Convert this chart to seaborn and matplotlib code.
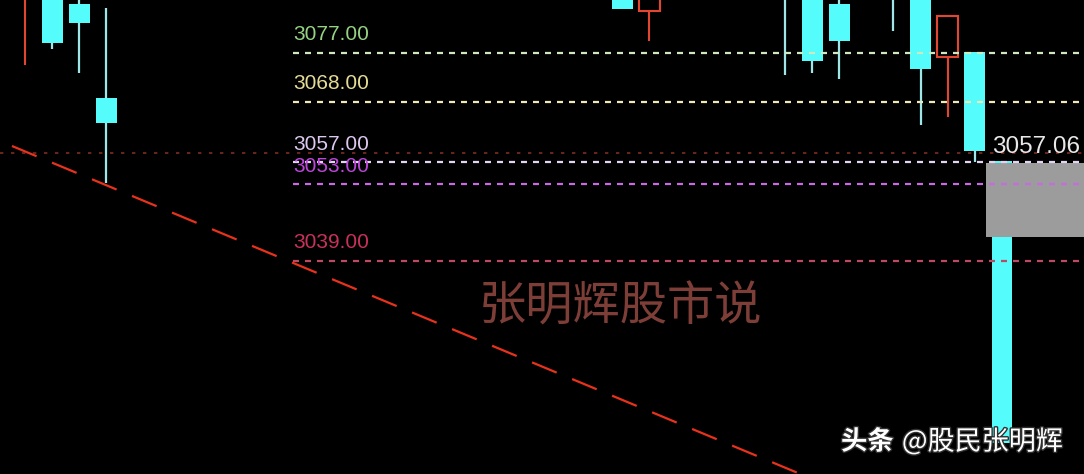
import pandas as pd
import seaborn as sns
import matplotlib.pyplot as plt
import matplotlib.patheffects as pe
from matplotlib.patches import Rectangle

# visible candles (bar number on the chart); values above ~3086.6 are off screen
bar_idx = [0, 1, 2, 3, 22, 23, 28, 29, 30, 32, 33, 34, 35, 36]
opens = [3089.0, 3090.0, 3085.9, 3068.7, 3090.0, 3084.6, 3094.0, 3089.0, 3085.9, 3093.0, 3089.0, 3076.2, 3077.1, 3057.3]
highs = [3096.0, 3091.0, 3088.5, 3085.2, 3091.0, 3093.0, 3096.0, 3090.0, 3088.0, 3095.0, 3090.0, 3083.7, 3077.1, 3057.3]
lows = [3074.75, 3077.7, 3073.3, 3053.2, 3085.0, 3079.1, 3072.9, 3073.3, 3072.2, 3081.0, 3063.8, 3065.3, 3057.06, 3005.7]
closes = [3095.0, 3078.8, 3082.4, 3064.2, 3085.0, 3092.0, 3088.0, 3075.5, 3079.1, 3088.0, 3074.0, 3083.7, 3059.0, 3005.7]

# horizontal price levels
level_prices = [3077.0, 3068.0, 3057.0, 3053.0, 3039.0]
level_labels = ["3077.00", "3068.00", "3057.00", "3053.00", "3039.00"]
label_colors = ["#96d282", "#e6dc96", "#dcc8f0", "#be46dc", "#c8325a"]
line_colors = ["#d0e8c0", "#f0e8b8", "#e4d4f4", "#c86ae0", "#c04860"]
level_start = 9.87

prev_close = 3058.73
last_price_label = "3057.06"

# falling trend line
trend_x = [-0.48, 29.0]
trend_y = [3059.96, 2999.15]

# grey highlight box
box_left = 35.41
box_low, box_high = 3043.3, 3056.85

watermark = "张明辉股市说"

CYAN = "#54fcfc"
WICK = "#9fe6e8"
RED = "#e24630"

sns.set_style("dark", {"axes.facecolor": "black", "figure.facecolor": "black"})
plt.rcParams['font.family'] = ['Liberation Sans', 'Noto Sans CJK SC', 'DejaVu Sans']

fig = plt.figure(figsize=(10.84, 4.74), dpi=100)
ax = fig.add_axes([0, 0, 1, 1])
ax.set_facecolor("black")
ax.set_xlim(-0.921, 39.02)
ax.set_ylim(3000.04, 3086.63)
ax.set_axis_off()

# candles
for x, o, h, l, c in zip(bar_idx, opens, highs, lows, closes):
    lo_b, hi_b = min(o, c), max(o, c)
    if c >= o:
        ax.vlines(x, l, lo_b, color=RED, lw=1.5, zorder=2)
        ax.vlines(x, hi_b, h, color=RED, lw=1.5, zorder=2)
        ax.bar(x, hi_b - lo_b, bottom=lo_b, width=0.77, facecolor="black",
               edgecolor=RED, linewidth=1.5, zorder=2)
    else:
        ax.vlines(x, l, h, color=WICK, lw=1.6, zorder=2)
        ax.bar(x, max(hi_b - lo_b, 0.15), bottom=lo_b, width=0.77, color=CYAN,
               linewidth=0, zorder=2)

ax.add_patch(Rectangle((box_left, box_low), 40 - box_left, box_high - box_low,
                       facecolor="#9c9c9c", edgecolor="none", zorder=3))

# previous close, fine dark red dots across the whole chart
ax.axhline(prev_close, color="#8a3024", lw=1.1, linestyle=(0, (2.2, 5)), zorder=4)

# level lines and their labels
for p, lab, tc, lc in zip(level_prices, level_labels, label_colors, line_colors):
    ax.hlines(p, level_start, 40, color=lc, lw=1.6, linestyle=(0, (2.7, 2.7)), zorder=4)
    ax.text(level_start, p + 3.3, lab, color=tc, fontsize=15, ha="left", va="center", zorder=6)

trend = pd.DataFrame({"x": trend_x, "y": trend_y})
sns.lineplot(data=trend, x="x", y="y", ax=ax, color="#e8321c", lw=1.6,
             linestyle=(0, (12, 7.5)), zorder=5)
ax.set_xlabel("")
ax.set_ylabel("")

ax.text(35.63, 3059.77, last_price_label, color="#e8e8e8", fontsize=17.5,
        ha="left", va="center", zorder=6)

ax.text(21.96, 3030.5, watermark, color="#7e3e38", fontsize=34, ha="center", va="center",
        family=["Noto Sans CJK SC"], zorder=6)

shadow = [pe.withStroke(linewidth=2, foreground="#303030")]
fig.text(0.7758, 0.0675, "头条", color="white", fontsize=19, fontweight="bold",
         ha="left", va="center", family=["Noto Sans CJK SC"], path_effects=shadow)
fig.text(0.832, 0.0675, "@股民张明辉", color="white", fontsize=19.5,
         ha="left", va="center", family=["Noto Sans CJK SC"], path_effects=shadow)

fig.savefig("out.png", dpi=100, facecolor="black")
